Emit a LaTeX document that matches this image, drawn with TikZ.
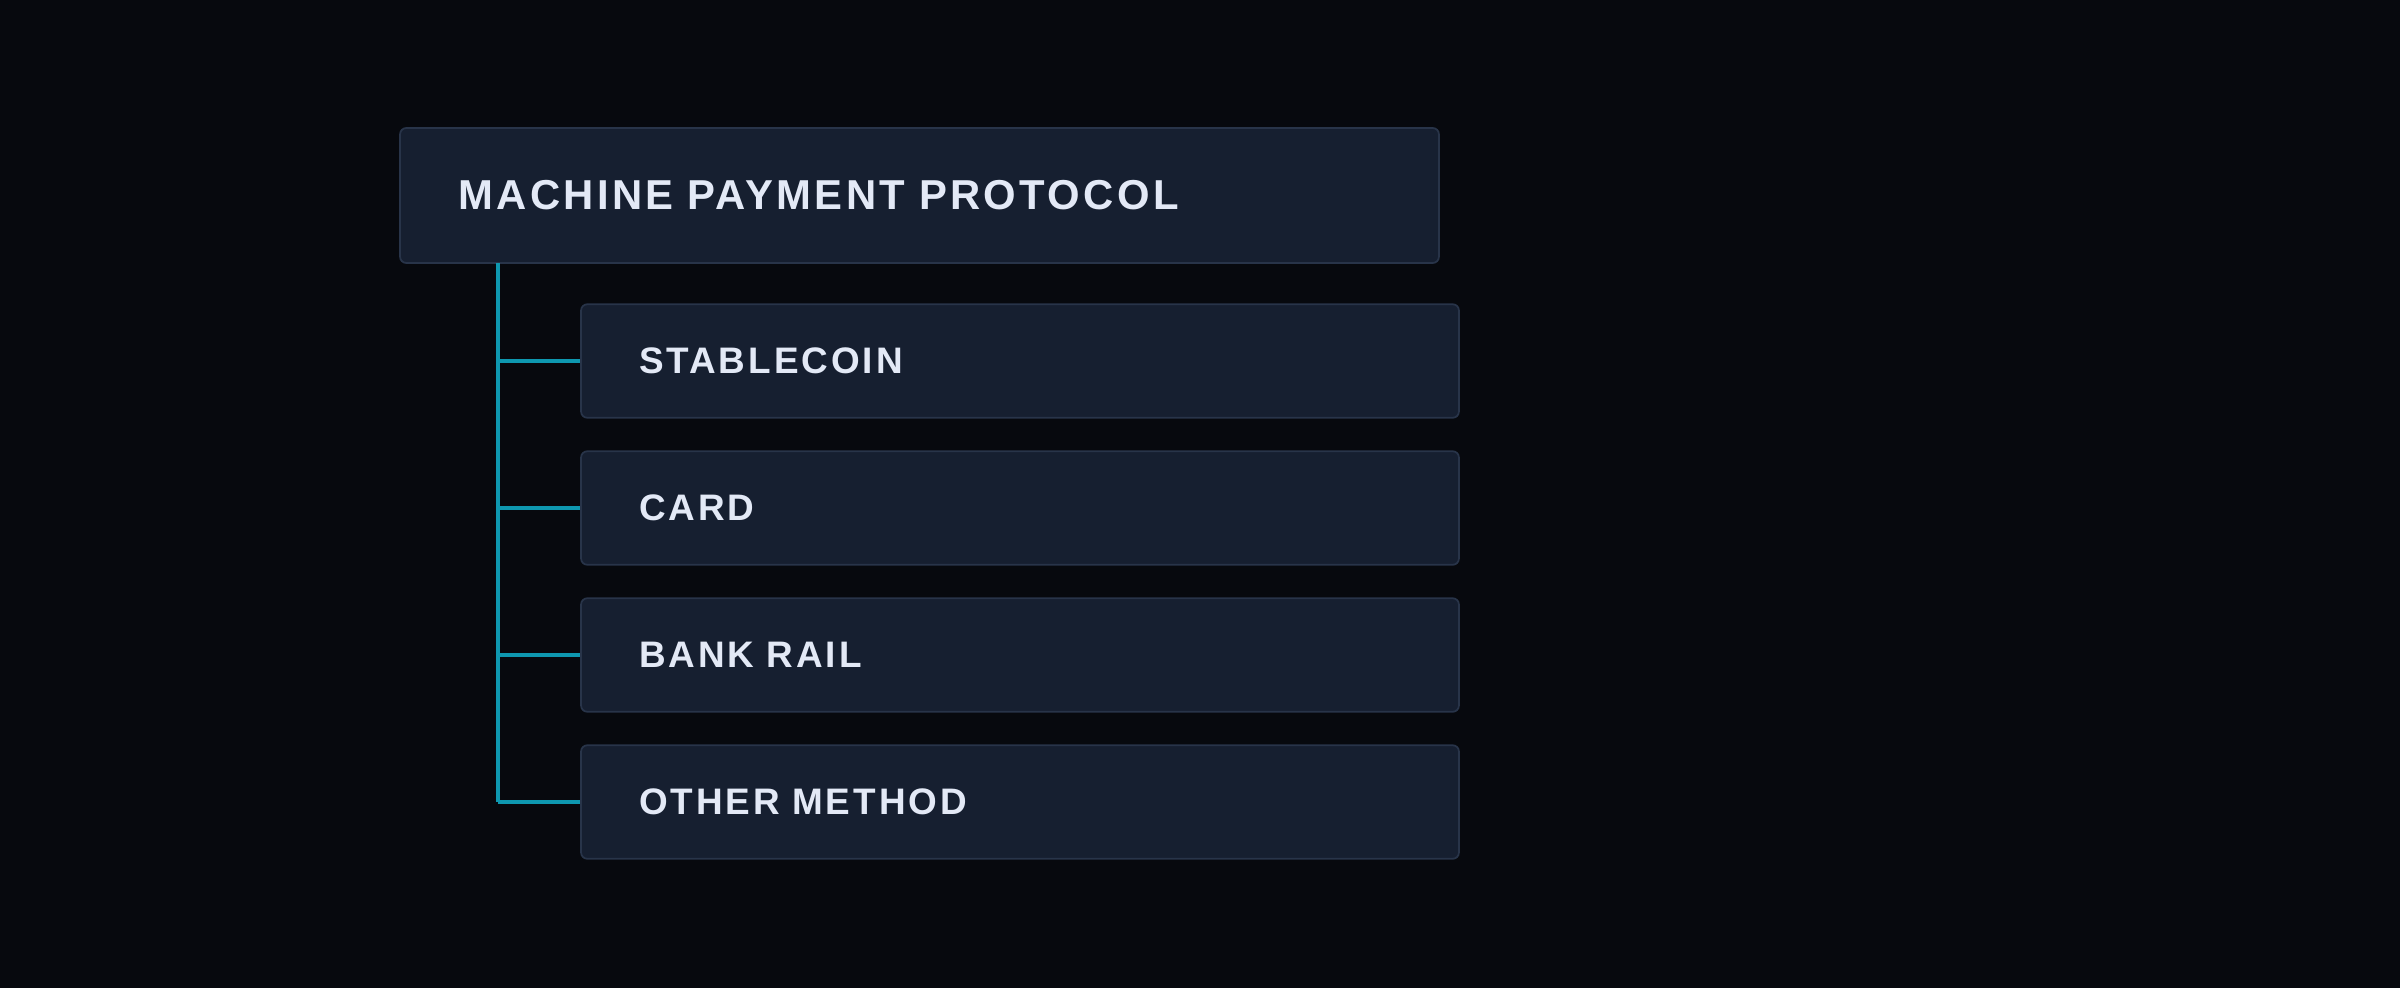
\documentclass[tikz,border=0pt]{standalone}
\usepackage{fontspec}
\setmainfont{Liberation Sans}[LetterSpace=8]
\definecolor{bgdark}{HTML}{07090E}
\definecolor{boxfill}{HTML}{161F30}
\definecolor{boxline}{HTML}{283449}
\definecolor{branch}{HTML}{0E98B0}
\definecolor{labeltext}{HTML}{E3E9F6}
\tikzset{
	methodbox/.style={draw=boxline, line width=1pt, fill=boxfill, rounded corners=3.5pt,
		text=labeltext, font=\bfseries\fontsize{21}{24}\selectfont,
		minimum width=17.56cm, minimum height=2.27cm, text width=15.24cm,
		inner xsep=1.16cm, align=left},
	rootbox/.style={methodbox, font=\bfseries\fontsize{23.8}{26}\selectfont,
		minimum width=20.78cm, minimum height=2.7cm, text width=18.44cm, inner xsep=1.17cm},
	tree/.style={draw=branch, line width=2pt}
}
\begin{document}
	\begin{tikzpicture}[x=0.02cm, y=-0.02cm]
		\fill[bgdark] (0,0) rectangle (2400,988);
		\useasboundingbox (0,0) rectangle (2400,988);
		\node[rootbox] (root) at (919.5,195.5) {MACHINE PAYMENT PROTOCOL};
		\coordinate (trunk) at (498,263);
		\foreach \name/\y/\txt in {stablecoin/361/STABLECOIN, card/508/CARD, bank/655/BANK RAIL, other/802/OTHER METHOD} {
			\node[methodbox] (\name) at (1020,\y) {\txt};
			\draw[tree] (\name.west) -- (\name.west -| trunk);
		}
		\draw[tree] (trunk) -- (trunk |- other.west);
	\end{tikzpicture}
\end{document}
